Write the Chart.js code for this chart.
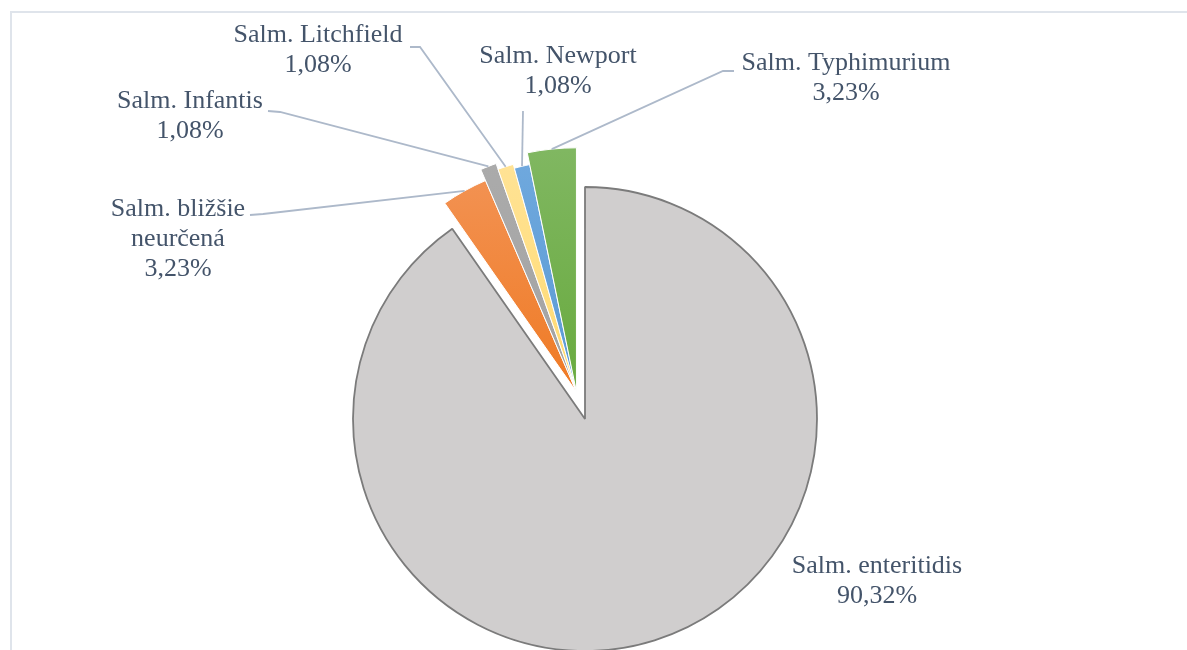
<!DOCTYPE html>
<html>
<head>
<meta charset="utf-8">
<script src="https://cdn.jsdelivr.net/npm/chart.js@4"></script>
<style>
  html, body { margin: 0; padding: 0; background: #fff; overflow: hidden; }
  #frame {
    position: absolute; left: 10px; top: 11px; width: 1300px; height: 800px;
    border-left: 2px solid #dfe4eb; border-top: 2px solid #dfe4eb;
  }
  #chartBox { position: absolute; left: 0; top: 0; width: 1187px; height: 650px; }
</style>
</head>
<body>
<div id="frame"></div>
<div id="chartBox"><canvas id="pieChart" width="1187" height="650"></canvas></div>
<script>
// data
const categories = [
    'Salm. enteritidis',
    'Salm. bližšie neurčená',
    'Salm. Infantis',
    'Salm. Litchfield',
    'Salm. Newport',
    'Salm. Typhimurium'
];
const shares = [90.32, 3.23, 1.08, 1.08, 1.08, 3.23];
const shareLabels = ['90,32%', '3,23%', '1,08%', '1,08%', '1,08%', '3,23%'];

// colours: [top of gradient, bottom of gradient]
const sliceColors = [
    ['#D0CECE', '#D0CECE'],
    ['#F39558', '#EF7A24'],
    ['#ABABAB', '#A3A3A3'],
    ['#FFE397', '#FFDA70'],
    ['#70A9DE', '#5A9AD4'],
    ['#80B761', '#68AA3E']
];

function sliceFill(context) {
    const c = sliceColors[context.dataIndex];
    if (c[0] === c[1]) return c[0];
    const g = context.chart.ctx.createLinearGradient(0, 150, 0, 392);
    g.addColorStop(0, c[0]);
    g.addColorStop(1, c[1]);
    return g;
}

// small slices are pulled out together as one group
const explodeGroup = {
    id: 'explodeGroup',
    afterDatasetUpdate(chart, args, opts) {
        const arcs = chart.getDatasetMeta(0).data;
        if (arcs.length < 2) return;
        const mid = (arcs[1].startAngle + arcs[arcs.length - 1].endAngle) / 2;
        const dx = Math.cos(mid) * opts.distance;
        const dy = Math.sin(mid) * opts.distance;
        for (let i = 1; i < arcs.length; i++) {
            arcs[i].x += dx;
            arcs[i].y += dy;
            arcs[i].outerRadius = opts.radii[i];
        }
    }
};

// labels with leader lines, placed like in the original
const sliceLabels = {
    id: 'sliceLabels',
    afterDatasetsDraw(chart, args, opts) {
        const ctx = chart.ctx;
        const arcs = chart.getDatasetMeta(0).data;
        ctx.save();
        ctx.strokeStyle = opts.lineColor;
        ctx.lineWidth = opts.lineWidth;
        opts.layout.forEach((lay, i) => {
            const arc = arcs[i];
            if (lay.leader) {
                const a = (arc.startAngle + arc.endAngle) / 2;
                const ex = arc.x + Math.cos(a) * arc.outerRadius;
                const ey = arc.y + Math.sin(a) * arc.outerRadius;
                ctx.beginPath();
                ctx.moveTo(lay.leader[0][0], lay.leader[0][1]);
                for (let k = 1; k < lay.leader.length; k++) ctx.lineTo(lay.leader[k][0], lay.leader[k][1]);
                ctx.lineTo(ex, ey);
                ctx.stroke();
            }
            ctx.fillStyle = opts.color;
            ctx.font = opts.font;
            ctx.textAlign = 'center';
            ctx.textBaseline = 'alphabetic';
            const lines = lay.lines.slice();
            lines.push(shareLabels[i]);
            lines.forEach((t, k) => ctx.fillText(t, lay.x, lay.y + k * opts.lineHeight));
        });
        ctx.restore();
    }
};

new Chart(document.getElementById('pieChart').getContext('2d'), {
    type: 'pie',
    data: {
        labels: categories,
        datasets: [{
            data: shares,
            backgroundColor: sliceFill,
            borderColor: ['#7b7b7b', '#fff', '#fff', '#fff', '#fff', '#fff'],
            borderWidth: [1.8, 1, 1, 1, 1, 1],
            radius: 232,
            clip: false
        }]
    },
    options: {
        responsive: false,
        animation: false,
        events: [],
        layout: { padding: { left: 0, right: 17, top: 188, bottom: 0 } },
        plugins: {
            legend: { display: false },
            tooltip: { enabled: false },
            explodeGroup: {
                distance: 28.5,
                radii: [232, 230, 242, 236, 232, 244]
            },
            sliceLabels: {
                font: '26px "Liberation Serif", "Times New Roman", serif',
                color: '#44546A',
                lineColor: '#ADB9CA',
                lineWidth: 1.8,
                lineHeight: 30,
                layout: [
                    { lines: ['Salm. enteritidis'], x: 877, y: 573 },
                    { lines: ['Salm. bližšie', 'neurčená'], x: 178, y: 216,
                      leader: [[250, 215], [263, 214]] },
                    { lines: ['Salm. Infantis'], x: 190, y: 108,
                      leader: [[268, 111], [280, 112]] },
                    { lines: ['Salm. Litchfield'], x: 318, y: 42,
                      leader: [[410, 47], [420, 47]] },
                    { lines: ['Salm. Newport'], x: 558, y: 63,
                      leader: [[523, 111]] },
                    { lines: ['Salm. Typhimurium'], x: 846, y: 70,
                      leader: [[734, 71], [723, 71]] }
                ]
            }
        }
    },
    plugins: [explodeGroup, sliceLabels]
});
</script>
</body>
</html>
